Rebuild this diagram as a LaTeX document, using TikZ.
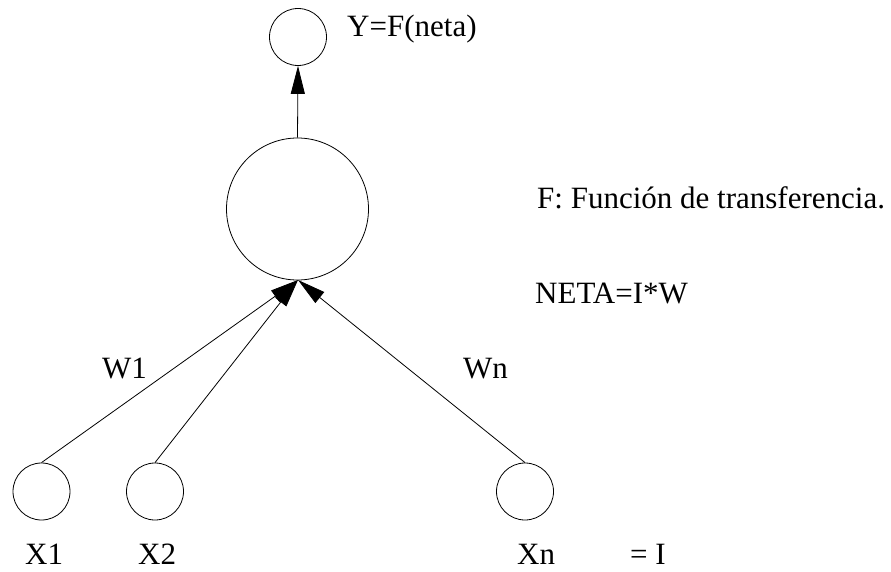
\documentclass[tikz,border=0pt]{standalone}
\usepackage{fontspec}
\setmainfont{Liberation Serif}
\usetikzlibrary{arrows.meta}
\begin{document}
\begin{tikzpicture}[x=1pt,y=-1pt,
  neuron/.style={circle,draw,line width=0.8pt,inner sep=0pt},
  small/.style={neuron,minimum size=57pt},
  big/.style={neuron,minimum size=142pt},
  lbl/.style={anchor=base west,inner sep=0pt,font=\fontsize{31}{31}\selectfont},
  conn/.style={line width=0.8pt,-{Triangle[length=28pt,width=14pt]}}]
\useasboundingbox (0,0) rectangle (891,572);
\node[small] (out) at (298,37) {};
\node[big] (sum) at (297.5,209) {};
\node[small] (x1) at (41.5,491.5) {};
\node[small] (x2) at (155,491.5) {};
\node[small] (xn) at (525,491.5) {};
\coordinate (tip) at (298,280);
\draw[conn] (sum.north) -- (out.south);
\draw[conn] (x1.north) -- (tip);
\draw[conn] (x2.north) -- (tip);
\draw[conn] (xn.north) -- (tip);
\node[lbl] (ty) at (347,37) {Y=F(neta)};
\node[lbl] (tf) at (537,208) {F: Función de transferencia.};
\node[lbl] (tn) at (535,303) {NETA=I*W};
\node[lbl] (tw1) at (102,378) {W1};
\node[lbl] (twn) at (463,378) {Wn};
\node[lbl] (tx1) at (25,564) {X1};
\node[lbl] (tx2) at (138,564) {X2};
\node[lbl] (txn) at (517,564) {Xn};
\node[lbl] (ti) at (630,564) {= I};
\end{tikzpicture}
\end{document}
